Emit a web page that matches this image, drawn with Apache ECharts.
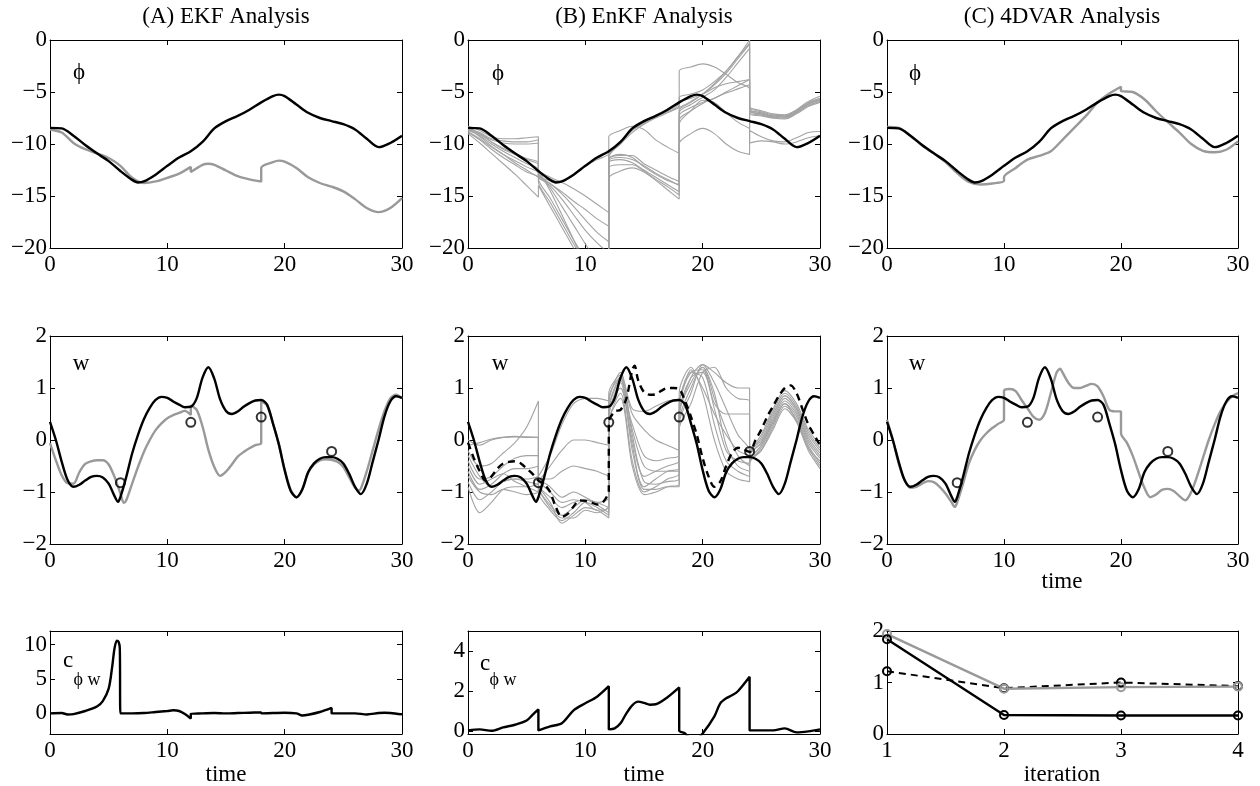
<!DOCTYPE html>
<html>
<head>
<meta charset="utf-8">
<script src="https://cdn.jsdelivr.net/npm/echarts@6/dist/echarts.min.js"></script>
<style>
  html, body { margin: 0; padding: 0; background: #fff; }
  #chart { width: 1260px; height: 786px; }
</style>
</head>
<body>
<div id="chart"></div>
<script>
// ---- data ----
const titles = ["(A) EKF Analysis", "(B) EnKF Analysis", "(C) 4DVAR Analysis"];
const timeTicks = [0, 10, 20, 30];
const iterations = [1, 2, 3, 4];

// true state
const truthPhi = [[0,-8.45],[1,-8.5],[2,-9.2],[3,-10.1],[4,-10.9],[5,-11.65],[6,-12.6],[7,-13.45],[7.5,-13.7],[8,-13.6],[9,-12.95],[10,-12.1],[11,-11.3],[12,-10.7],[13,-9.8],[14,-8.5],[15,-7.8],[16,-7.3],[17,-6.7],[18,-6.0],[19,-5.4],[19.5,-5.25],[20,-5.4],[21,-6.2],[22,-7.0],[23,-7.5],[24,-7.8],[25,-8.1],[26,-8.6],[27,-9.5],[28,-10.3],[29,-9.9],[30,-9.2]];
const truthW = [[0,0.35],[0.5,0.0],[1,-0.42],[1.5,-0.77],[2,-0.9],[2.5,-0.86],[3,-0.78],[3.5,-0.71],[4,-0.69],[4.5,-0.72],[5,-0.84],[5.5,-1.08],[5.8,-1.19],[6,-1.1],[6.5,-0.71],[7,-0.26],[7.5,0.1],[8,0.4],[8.5,0.62],[9,0.77],[9.5,0.83],[10,0.81],[10.5,0.74],[11,0.68],[11.5,0.63],[12,0.64],[12.5,0.8],[13,1.2],[13.5,1.4],[14,1.18],[14.5,0.78],[15,0.56],[15.5,0.5],[16,0.55],[16.5,0.64],[17,0.71],[17.5,0.76],[18,0.77],[18.5,0.68],[19,0.32],[19.5,-0.08],[20,-0.58],[20.5,-0.97],[21,-1.1],[21.5,-0.95],[22,-0.62],[22.5,-0.45],[23,-0.36],[23.5,-0.33],[24,-0.33],[24.5,-0.36],[25,-0.45],[25.5,-0.65],[26,-0.9],[26.5,-1.04],[27,-0.84],[27.5,-0.42],[28,0.0],[28.5,0.45],[29,0.74],[29.5,0.84],[30,0.81]];
const obsW = [[6,-0.82],[12,0.34],[18,0.44],[24,-0.22]];

// EKF analysis
const ekfPhi = [[0,-8.6],[1,-8.9],[2,-9.9],[3,-10.5],[4,-10.9],[5,-11.35],[6,-12.1],[7,-13.25],[8,-13.75],[9,-13.6],[10,-13.25],[11,-12.85],[12,-12.2],[12,-12.7],[13,-12.0],[13.5,-11.9],[14,-12.0],[15,-12.55],[16,-13.1],[17,-13.4],[18,-13.6],[18,-12.3],[19,-11.75],[19.5,-11.6],[20,-11.7],[21,-12.3],[22,-13.2],[23,-13.75],[24,-14.1],[25,-14.55],[26,-15.3],[27,-16.15],[28,-16.55],[29,-16.15],[30,-15.2]];
const ekfW = [[0,-0.06],[0.5,-0.39],[1,-0.68],[1.5,-0.83],[2,-0.84],[2.5,-0.62],[3,-0.46],[3.5,-0.41],[4,-0.39],[4.5,-0.39],[5,-0.47],[5.5,-0.71],[6,-1.03],[6.3,-1.21],[6.5,-1.16],[7,-0.84],[7.5,-0.52],[8,-0.23],[8.5,0.0],[9,0.19],[9.5,0.32],[10,0.42],[10.5,0.48],[11,0.52],[11.5,0.56],[12,0.48],[12,0.66],[12.5,0.58],[13,0.26],[13.5,-0.19],[14,-0.52],[14.5,-0.69],[15,-0.61],[15.5,-0.47],[16,-0.32],[16.5,-0.23],[17,-0.16],[17.5,-0.1],[18,-0.06],[18,0.74],[18.5,0.66],[19,0.32],[19.5,-0.08],[20,-0.57],[20.5,-0.95],[21,-1.1],[21.5,-0.95],[22,-0.63],[22.5,-0.47],[23,-0.39],[23.5,-0.37],[24,-0.38],[24.5,-0.42],[25,-0.52],[25.5,-0.72],[26,-0.92],[26.3,-0.97],[26.5,-0.93],[27,-0.6],[27.5,-0.2],[28,0.2],[28.5,0.55],[29,0.8],[29.5,0.87],[30,0.8]];
const ekfCov = [[0,0.0],[1,0.05],[1.5,-0.15],[2,-0.1],[3,0.35],[4,1.0],[4.5,1.8],[5,3.6],[5.3,6.8],[5.5,9.5],[5.7,10.6],[5.85,10.4],[5.95,9.5],[6,0.0],[7,0.0],[8,0.05],[9,0.2],[10,0.35],[10.5,0.45],[11,0.35],[11.5,-0.1],[12,-0.75],[12,-0.05],[13,0.0],[14,0.05],[15,0.0],[16,0.05],[17,0.1],[18,0.15],[18,0.0],[19,0.05],[20,0.1],[21,0.0],[21.5,-0.3],[22,-0.2],[23,0.2],[24,0.8],[24,0.0],[25,0.0],[26,0.0],[27,-0.15],[28,0.05],[28.5,0.1],[29,0.05],[30,-0.15]];

// EnKF ensemble members (jumps at the analysis times 6, 12, 18, 24)
const memberTime = [0,1,2,3,4,5,6, 6,7,8,9,10,11,12, 12,13,14,15,16,17,18, 18,19,20,21,22,23,24, 24,25,26,27,28,29,30];
const enkfPhiMembers = [
  [-8.3,-8.7,-9.3,-9.5,-9.5,-9.4,-9.3, -12.4,-13.2,-13.6,-13.0,-12.1,-11.5,-10.9, -9.3,-8.7,-8.3,-8.6,-9.6,-10.3,-10.9, -3.0,-2.6,-2.3,-2.6,-3.3,-4.1,-4.7, -6.4,-6.8,-7.1,-7.2,-6.7,-5.9,-5.4],
  [-8.5,-8.9,-9.5,-9.7,-9.8,-9.8,-9.6, -13.0,-13.5,-13.7,-14.3,-15.0,-15.8,-16.6, -11.0,-9.8,-8.6,-7.9,-7.3,-6.8,-6.1, -5.5,-5.2,-4.8,-4.0,-3.0,-1.6,0.0, -6.6,-7.0,-7.3,-7.4,-6.9,-6.1,-5.7],
  [-8.6,-9.0,-9.6,-9.9,-10.0,-10.0,-9.9, -12.8,-13.8,-14.6,-15.5,-16.3,-17.2,-17.9, -11.3,-10.0,-8.9,-8.1,-7.5,-7.0,-6.5, -6.5,-5.9,-5.2,-4.2,-3.0,-1.6,-0.3, -6.8,-7.1,-7.4,-7.5,-7.0,-6.2,-5.8],
  [-8.4,-9.0,-9.8,-10.5,-11.0,-11.5,-12.0, -13.0,-14.0,-15.3,-16.8,-18.3,-19.5,-20.5, -11.5,-11.1,-11.1,-11.9,-12.5,-13.1,-13.6, -7.0,-6.2,-5.5,-4.8,-3.6,-2.2,-0.8, -7.0,-7.2,-7.5,-7.6,-7.1,-6.4,-6.0],
  [-8.6,-9.2,-10.0,-10.7,-11.3,-11.9,-12.4, -12.6,-14.2,-16.0,-17.8,-19.6,-21.2,-22.0, -11.65,-11.3,-11.5,-12.1,-12.8,-13.4,-14.0, -7.3,-6.5,-6.0,-5.6,-5.0,-4.4,-3.8, -7.1,-7.3,-7.5,-7.5,-7.0,-6.3,-5.9],
  [-8.8,-9.5,-10.3,-11.0,-11.6,-12.2,-12.8, -13.3,-15.2,-17.2,-19.2,-21.0,-22.0,-23.0, -11.8,-11.5,-11.8,-12.5,-13.2,-13.9,-14.6, -7.7,-6.8,-6.1,-5.6,-5.1,-4.7,-4.3, -6.5,-6.9,-7.2,-7.3,-6.8,-6.0,-5.6],
  [-8.9,-9.6,-10.5,-11.3,-12.0,-12.7,-13.2, -13.6,-15.6,-17.6,-19.6,-21.5,-23.0,-24.0, -12.3,-12.0,-12.0,-12.6,-13.4,-14.1,-14.9, -8.1,-6.8,-5.8,-6.0,-7.0,-7.9,-8.5, -6.9,-7.2,-7.4,-7.4,-6.9,-6.1,-5.7],
  [-9.0,-9.9,-10.9,-11.9,-12.9,-14.0,-15.1, -14.0,-16.0,-18.0,-20.0,-22.0,-24.0,-25.0, -13.3,-12.6,-12.3,-12.7,-13.5,-14.4,-15.3, -10.0,-9.0,-8.5,-9.0,-10.0,-10.7,-11.0, -8.7,-9.3,-9.7,-9.8,-9.4,-8.9,-8.8],
  [-8.7,-9.1,-9.8,-10.4,-10.9,-11.4,-11.8, -13.2,-13.8,-14.8,-16.0,-17.3,-18.5,-19.4, -11.2,-9.9,-8.7,-8.0,-7.4,-6.9,-6.3, -6.0,-5.6,-5.2,-4.6,-4.2,-4.0,-3.8, -9.9,-9.7,-9.8,-10.0,-9.8,-9.4,-9.2],
  [-8.5,-9.3,-10.2,-11.0,-11.8,-12.5,-13.2, -12.5,-14.5,-16.8,-19.2,-21.5,-23.0,-24.0, -11.5,-11.0,-11.3,-12.2,-12.9,-13.5,-13.9, -6.8,-6.0,-5.2,-4.3,-3.2,-1.8,-0.4, -6.7,-7.0,-7.3,-7.3,-6.8,-6.1,-5.8]
];
const enkfWMembers = [
  [0.0,-0.1,0.0,0.05,0.07,0.06,0.05, -0.7,-0.3,0.3,0.7,0.8,0.8,0.75, 0.9,1.25,0.6,0.55,0.65,0.75,0.8, 0.8,1.35,1.0,0.5,0.1,-0.2,-0.3, -0.25,0.0,0.5,0.85,0.6,0.1,-0.2],
  [-0.2,-0.5,-0.45,-0.25,-0.05,0.25,0.75, -0.8,-0.5,-0.2,0.0,0.0,-0.05,-0.1, 0.5,1.0,0.3,-0.3,-0.4,-0.35,-0.3, 0.5,1.1,1.4,0.8,0.2,-0.3,-0.5, -0.3,-0.05,0.4,0.8,0.55,0.0,-0.3],
  [-0.4,-0.75,-0.7,-0.5,-0.35,-0.3,-0.3, -0.75,-0.75,-0.6,-0.5,-0.55,-0.6,-0.7, 0.4,1.1,0.0,-0.7,-0.6,-0.5,-0.4, 0.3,0.9,1.45,1.1,0.6,0.1,-0.2, -0.35,-0.1,0.35,0.75,0.5,-0.05,-0.35],
  [-0.6,-0.95,-0.85,-0.65,-0.55,-0.55,-0.5, -0.85,-1.1,-1.3,-1.2,-1.15,-1.2,-1.3, 0.6,1.2,-0.2,-0.9,-0.75,-0.6,-0.55, 0.6,1.3,1.2,0.3,-0.4,-0.6,-0.7, -0.3,0.05,0.55,0.9,0.65,0.15,-0.15],
  [-0.8,-1.15,-1.0,-0.8,-0.75,-0.75,-0.7, -0.9,-1.25,-1.45,-1.3,-1.15,-1.25,-1.4, 0.3,0.9,-0.4,-1.0,-0.9,-0.75,-0.65, 0.4,1.2,1.45,1.3,1.1,1.0,1.0, -0.4,-0.15,0.3,0.7,0.45,-0.1,-0.45],
  [-0.9,-1.4,-1.2,-0.95,-0.9,-0.9,-0.85, -1.0,-1.35,-1.55,-1.4,-1.2,-1.3,-1.45, 0.7,1.3,0.1,-0.8,-0.85,-0.8,-0.75, 0.9,1.4,0.9,0.0,-0.6,-0.75,-0.8, -0.45,-0.2,0.25,0.65,0.4,-0.15,-0.5],
  [-0.5,-0.85,-0.75,-0.65,-0.8,-0.9,-1.0, -0.9,-1.2,-1.6,-1.45,-1.3,-1.35,-1.5, 0.35,0.8,-0.5,-1.05,-1.0,-0.9,-0.85, 0.2,0.7,1.3,1.4,1.0,0.8,0.75, -0.2,0.1,0.6,0.95,0.7,0.2,-0.1],
  [-0.3,-0.7,-0.9,-0.8,-0.75,-0.8,-0.85, -0.8,-1.0,-1.2,-1.15,-1.2,-1.35,-1.3, 0.55,1.15,0.2,-0.5,-0.6,-0.6,-0.6, 0.7,1.3,1.35,0.7,0.5,0.5,0.5, -0.35,-0.1,0.35,0.7,0.35,-0.2,-0.55],
  [-0.7,-1.0,-1.05,-0.95,-1.0,-1.05,-1.0, -0.95,-1.3,-1.5,-1.5,-1.35,-1.4,-1.25, 0.45,1.0,-0.1,-0.95,-0.95,-0.9,-0.9, 0.35,1.0,1.4,0.9,-0.1,-0.5,-0.6, -0.3,-0.05,0.45,0.85,0.6,0.05,-0.25],
  [-0.1,-0.05,0.02,0.05,0.06,0.05,0.05, -0.7,-0.9,-1.1,-1.0,-1.1,-1.2,-1.1, 0.8,1.2,0.5,0.2,0.0,-0.1,-0.2, 0.5,1.2,1.3,0.6,-0.2,-0.4,-0.45, -0.4,-0.2,0.2,0.6,0.35,-0.15,-0.4]
];
const enkfMeanW = [[0,-0.05],[0.5,-0.35],[1,-0.6],[1.5,-0.78],[2,-0.7],[2.5,-0.55],[3,-0.45],[3.5,-0.42],[4,-0.41],[4.5,-0.45],[5,-0.55],[5.5,-0.65],[6,-0.78],[6.5,-0.85],[7,-1.0],[7.5,-1.3],[8,-1.48],[8.5,-1.42],[9,-1.28],[9.5,-1.16],[10,-1.17],[10.5,-1.2],[11,-1.24],[11.5,-1.2],[12,-0.97],[12,0.34],[12.5,0.55],[13,0.58],[13.5,0.8],[14,1.35],[14.2,1.43],[14.5,1.15],[15,0.92],[15.5,0.87],[16,0.88],[16.5,0.95],[17,1.0],[17.5,1.0],[18,0.98],[18.5,0.75],[19,0.45],[19.5,0.1],[20,-0.35],[20.5,-0.7],[21,-0.9],[21.5,-0.8],[22,-0.5],[22.5,-0.25],[23,-0.15],[23.5,-0.18],[24,-0.23],[24.5,0.0],[25,0.2],[25.5,0.45],[26,0.65],[26.5,0.85],[27,1.0],[27.5,1.05],[28,0.9],[28.5,0.6],[29,0.3],[29.5,0.1],[30,-0.1]];
const enkfCov = [[0,0.05],[1,0.1],[2,0.03],[3,0.2],[4,0.33],[5,0.54],[5.5,0.82],[6,1.1],[6,0.05],[7,0.25],[8,0.41],[9,1.05],[10,1.4],[11,1.73],[12,2.25],[12,0.1],[12.5,0.15],[13,0.4],[13.5,0.9],[14,1.3],[14.5,1.48],[15,1.42],[15.5,1.33],[16,1.35],[17,1.7],[18,2.19],[18,0.05],[18.5,-0.1],[19,-0.35],[19.5,-0.35],[20,-0.1],[21,0.75],[21.5,1.4],[22,1.65],[22.5,1.8],[23,2.0],[24,2.72],[24,0.05],[25,0.05],[26,0.05],[27,0.15],[28,-0.05],[29,0.0],[30,0.1]];

// 4DVAR analysis
const varPhi = [[0,-8.35],[1,-8.45],[2,-9.2],[3,-10.15],[4,-10.9],[5,-11.75],[6,-12.8],[7,-13.65],[8,-13.9],[9,-13.8],[10,-13.55],[10,-13.2],[11,-12.3],[12,-11.5],[13,-11.15],[14,-10.7],[15,-9.6],[16,-8.45],[17,-7.3],[18,-6.0],[19,-5.15],[20,-4.5],[20,-4.9],[21,-5.0],[22,-5.7],[23,-6.85],[24,-7.9],[25,-8.9],[26,-10.0],[27,-10.65],[28,-10.8],[29,-10.55],[30,-9.75]];
const varW = [[0,0.39],[0.5,0.0],[1,-0.45],[1.5,-0.77],[2,-0.92],[2.5,-0.9],[3,-0.84],[3.5,-0.79],[4,-0.81],[4.5,-0.9],[5,-1.03],[5.5,-1.19],[5.8,-1.29],[6,-1.2],[6.5,-0.84],[7,-0.45],[7.5,-0.19],[8,0.0],[8.5,0.13],[9,0.23],[9.5,0.31],[10,0.39],[10,0.94],[10.5,0.98],[11,0.94],[11.5,0.77],[12,0.61],[12.5,0.45],[13,0.39],[13.5,0.52],[14,0.9],[14.5,1.3],[14.8,1.37],[15,1.3],[15.5,1.1],[16,1.0],[16.5,1.0],[17,1.04],[17.5,1.08],[18,1.03],[18.5,0.84],[19,0.58],[19.5,0.55],[20,0.55],[20,0.13],[20.5,-0.05],[21,-0.3],[21.5,-0.62],[22,-0.92],[22.5,-1.1],[23,-1.05],[23.5,-0.96],[24,-0.94],[24.5,-0.98],[25,-1.08],[25.5,-1.16],[26,-1.0],[26.5,-0.7],[27,-0.35],[27.5,0.0],[28,0.3],[28.5,0.55],[29,0.72],[29.5,0.84],[30,0.9]];
const costBlack = [1.84, 0.37, 0.36, 0.36];
const costGray = [1.94, 0.88, 0.91, 0.92];
const costDashed = [1.22, 0.89, 1.0, 0.93];

// ---- layout ----
const FONT = '"Liberation Serif", "DejaVu Serif", serif';
const GRAY = "#999999";
const MEMBER = "#a3a3a3";
const cols = [{ left: 50, width: 352 }, { left: 468, width: 352 }, { left: 887, width: 351 }];
const rows = [{ top: 40, height: 208 }, { top: 336, height: 208 }, { top: 631, height: 103 }];

const panels = [
  { x: [0, 30, 10], y: [-20, 0, 5] }, { x: [0, 30, 10], y: [-20, 0, 5] }, { x: [0, 30, 10], y: [-20, 0, 5] },
  { x: [0, 30, 10], y: [-2, 2, 1] }, { x: [0, 30, 10], y: [-2, 2, 1] }, { x: [0, 30, 10], y: [-2, 2, 1] },
  { x: [0, 30, 10], y: [-3, 12], yTicks: [0, 5, 10] },
  { x: [0, 30, 10], y: [-0.13, 5], yTicks: [0, 2, 4] },
  { x: [1, 4, 1], y: [0, 2, 1] }
];

const minus = v => String(v).replace("-", "\u2212");
const grid = [], xAxis = [], yAxis = [], series = [];

panels.forEach((p, k) => {
  const c = cols[k % 3], r = rows[Math.floor(k / 3)];
  grid.push({ left: c.left, top: r.top, width: c.width, height: r.height, show: false });
  const line = { show: true, onZero: false, lineStyle: { color: "#000", width: 1 } };
  const tick = { show: true, inside: true, length: 5, lineStyle: { color: "#000", width: 1 } };
  const lab = { fontFamily: FONT, fontSize: 23, color: "#000", formatter: minus };
  ["bottom", "top"].forEach((pos, i) => {
    xAxis.push({
      type: "value", gridIndex: k, position: pos, min: p.x[0], max: p.x[1], interval: p.x[2],
      axisLine: line, axisTick: tick, splitLine: { show: false },
      axisLabel: Object.assign({ show: i === 0, margin: 5 }, lab)
    });
  });
  ["left", "right"].forEach((pos, i) => {
    const ax = {
      type: "value", gridIndex: k, position: pos, min: p.y[0], max: p.y[1],
      axisLine: line, splitLine: { show: false },
      axisTick: Object.assign({}, tick),
      axisLabel: Object.assign({ show: i === 0, margin: 3 }, lab)
    };
    if (p.yTicks) {
      ax.axisTick.customValues = p.yTicks;
      ax.axisLabel.customValues = p.yTicks;
    } else {
      ax.interval = p.y[2];
    }
    yAxis.push(ax);
  });
});

function addLine(k, data, color, width, extra) {
  series.push(Object.assign({
    type: "line", xAxisIndex: 2 * k, yAxisIndex: 2 * k, data: data,
    symbol: "none", showSymbol: false, smooth: 0.3, clip: true,
    lineStyle: { color: color, width: width }, itemStyle: { color: color },
    emphasis: { disabled: true }
  }, extra || {}));
}
function addObs(k) {
  series.push({
    type: "scatter", xAxisIndex: 2 * k, yAxisIndex: 2 * k, data: obsW,
    symbol: "circle", symbolSize: 9, z: 5,
    itemStyle: { color: "rgba(0,0,0,0)", borderColor: "#000", borderWidth: 2 }
  });
}

// row 1: phi
addLine(0, ekfPhi, GRAY, 2.4);
addLine(0, truthPhi, "#000", 2.4);
enkfPhiMembers.forEach(m => addLine(1, memberTime.map((t, i) => [t, m[i]]), MEMBER, 1.1));
addLine(1, truthPhi, "#000", 2.4);
addLine(2, varPhi, GRAY, 2.4);
addLine(2, truthPhi, "#000", 2.4);

// row 2: w
addLine(3, ekfW, GRAY, 2.4);
addLine(3, truthW, "#000", 2.4);
addObs(3);
enkfWMembers.forEach(m => addLine(4, memberTime.map((t, i) => [t, m[i]]), MEMBER, 1.1));
addLine(4, enkfMeanW, "#000", 2.4, { lineStyle: { color: "#000", width: 2.4, type: [7, 5] } });
addLine(4, truthW, "#000", 2.4);
addObs(4);
addLine(5, varW, GRAY, 2.4);
addLine(5, truthW, "#000", 2.4);
addObs(5);

// row 3: covariance / cost
addLine(6, ekfCov, "#000", 2.4);
addLine(7, enkfCov, "#000", 2.4);
const costMarker = col => ({
  smooth: false, symbol: "circle", showSymbol: true, symbolSize: 8,
  itemStyle: { color: "rgba(0,0,0,0)", borderColor: col, borderWidth: 2 }
});
addLine(8, iterations.map((t, i) => [t, costDashed[i]]), "#000", 2,
  Object.assign(costMarker("#000"), { lineStyle: { color: "#000", width: 2, type: [7, 5] } }));
addLine(8, iterations.map((t, i) => [t, costGray[i]]), GRAY, 2.4, costMarker(GRAY));
addLine(8, iterations.map((t, i) => [t, costBlack[i]]), "#000", 2.4, costMarker("#000"));

// ---- text labels ----
const txt = (x, y, text, size) => ({
  type: "text", x: x, y: y, z: 100,
  style: { text: text, font: size + "px " + FONT, fill: "#000",
    textAlign: "center", align: "center", textVerticalAlign: "middle", verticalAlign: "middle" }
});
const graphic = [
  txt(226, 17, titles[0], 23), txt(644, 17, titles[1], 23), txt(1062, 17, titles[2], 23),
  txt(79, 73, "\u03d5", 23), txt(498, 74, "\u03d5", 23), txt(915, 74, "\u03d5", 23),
  txt(81, 364, "w", 23), txt(500, 364, "w", 23), txt(917, 364, "w", 23),
  txt(68, 661, "c", 23), txt(87, 680, "\u03d5 w", 18),
  txt(485, 664, "c", 23), txt(503, 680, "\u03d5 w", 18),
  txt(1062, 582, "time", 23), txt(226, 775, "time", 23), txt(644, 775, "time", 23),
  txt(1062, 775, "iteration", 23)
];

const chart = echarts.init(document.getElementById("chart"));
chart.setOption({ animation: false, backgroundColor: "#fff", grid, xAxis, yAxis, series, graphic });
</script>
</body>
</html>
